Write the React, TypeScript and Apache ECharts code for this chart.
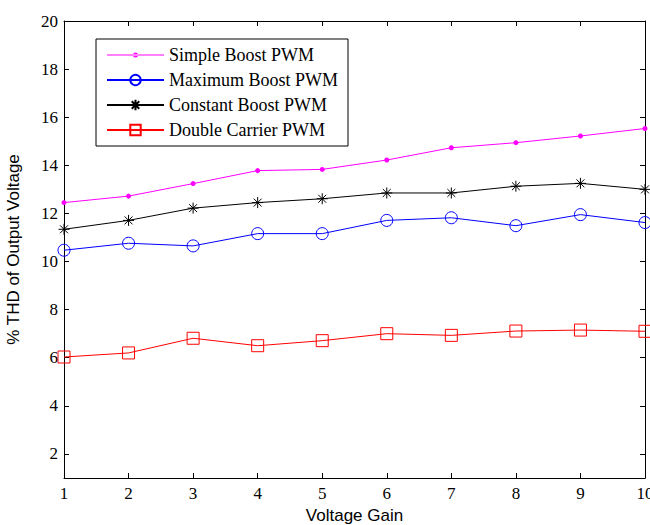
import React, { useEffect, useRef } from "react";
import * as echarts from "echarts";

const gains = [1, 2, 3, 4, 5, 6, 7, 8, 9, 10];
const simpleBoost = [12.45, 12.72, 13.24, 13.78, 13.83, 14.22, 14.73, 14.94, 15.22, 15.53];
const maximumBoost = [10.47, 10.76, 10.65, 11.16, 11.16, 11.71, 11.82, 11.49, 11.95, 11.62];
const constantBoost = [11.34, 11.71, 12.22, 12.45, 12.61, 12.85, 12.85, 13.13, 13.25, 13.0];
const doubleCarrier = [6.03, 6.2, 6.81, 6.5, 6.71, 7.0, 6.93, 7.11, 7.15, 7.1];
const yTicks = [2, 4, 6, 8, 10, 12, 14, 16, 18, 20];
const xTicks = [1, 2, 3, 4, 5, 6, 7, 8, 9, 10];

const asterisk =
  "path://M0,-1L0,1M-1,0L1,0M-0.72,-0.72L0.72,0.72M-0.72,0.72L0.72,-0.72";
const dotLegendIcon =
  "path://M0,2L57,2L57,3L0,3Z M26,2.5 A2.5,2.5 0 1,0 31,2.5 A2.5,2.5 0 1,0 26,2.5Z";

export default function App() {
  const ref = useRef<HTMLDivElement>(null);
  useEffect(() => {
    if (!ref.current) return;
    const chart = echarts.init(ref.current, null, { renderer: "svg" });
    const pair = (ys: number[]) => gains.map((g, i) => [g, ys[i]]);
    const serif = "'Liberation Serif', 'Times New Roman', serif";
    const sans = "'Liberation Sans', Arial, sans-serif";
    const mk = (
      name: string,
      ys: number[],
      color: string,
      symbol: string,
      size: number,
      filled: boolean
    ) => ({
      name,
      type: "line",
      data: pair(ys),
      color,
      symbol,
      symbolSize: size,
      showSymbol: true,
      lineStyle: { color, width: 1 },
      itemStyle: filled
        ? { color, borderColor: color, borderWidth: 0 }
        : { color: "rgba(0,0,0,0)", borderColor: color, borderWidth: 1 },
      emphasis: { disabled: true },
      z: 3,
    });
    const axisLine = { show: true, lineStyle: { color: "#000", width: 1 } };
    chart.setOption({
      animation: false,
      backgroundColor: "#fff",
      grid: {
        left: 64,
        right: 5,
        top: 21,
        bottom: 47,
        containLabel: false,
        outerBoundsMode: "none",
      },
      legend: {
        left: 96,
        top: 39,
        orient: "vertical",
        backgroundColor: "#fff",
        borderColor: "#000",
        borderWidth: 1,
        borderRadius: 0,
        padding: [7, 10, 7, 10],
        itemWidth: 57,
        itemHeight: 13,
        itemGap: 7,
        textStyle: { fontFamily: serif, fontSize: 18, color: "#000" },
        data: [
          { name: "Simple Boost PWM", icon: dotLegendIcon },
          "Maximum Boost PWM",
          "Constant Boost PWM",
          "Double Carrier PWM",
        ],
      },
      xAxis: [
        {
          type: "value",
          min: 1,
          max: 10,
          interval: 1,
          position: "bottom",
          name: "Voltage Gain",
          nameLocation: "middle",
          nameGap: 28,
          nameTextStyle: { fontFamily: sans, fontSize: 17, color: "#000" },
          axisLine,
          axisTick: { show: true, inside: true, length: 5, lineStyle: { color: "#000" } },
          axisLabel: {
            fontFamily: serif,
            fontSize: 17,
            color: "#000",
            margin: 7,
            customValues: xTicks,
          },
          splitLine: { show: false },
        },
        {
          type: "value",
          min: 1,
          max: 10,
          interval: 1,
          position: "top",
          axisLine,
          axisTick: { show: true, inside: true, length: 5, lineStyle: { color: "#000" } },
          axisLabel: { show: false },
          splitLine: { show: false },
        },
      ],
      yAxis: [
        {
          type: "value",
          min: 1,
          max: 20,
          position: "left",
          name: "% THD of Output Voltage",
          nameLocation: "middle",
          nameGap: 42,
          nameTextStyle: { fontFamily: sans, fontSize: 17, color: "#000" },
          axisLine,
          axisTick: {
            show: true,
            inside: true,
            length: 5,
            lineStyle: { color: "#000" },
            customValues: yTicks,
          },
          axisLabel: {
            fontFamily: serif,
            fontSize: 17,
            color: "#000",
            margin: 6,
            customValues: yTicks,
          },
          splitLine: { show: false },
        },
        {
          type: "value",
          min: 1,
          max: 20,
          position: "right",
          axisLine,
          axisTick: {
            show: true,
            inside: true,
            length: 5,
            lineStyle: { color: "#000" },
            customValues: yTicks,
          },
          axisLabel: { show: false, customValues: yTicks },
          splitLine: { show: false },
        },
      ],
      series: [
        mk("Simple Boost PWM", simpleBoost, "#ff00ff", "circle", 5, true),
        mk("Maximum Boost PWM", maximumBoost, "#0000ff", "circle", 12, false),
        mk("Constant Boost PWM", constantBoost, "#000000", asterisk, 11, false),
        mk("Double Carrier PWM", doubleCarrier, "#ff0000", "rect", 12, false),
      ],
    });
    return () => chart.dispose();
  }, []);
  return (
    <div
      ref={ref}
      style={{ position: "fixed", left: 0, top: 0, width: 650, height: 525 }}
    />
  );
}
